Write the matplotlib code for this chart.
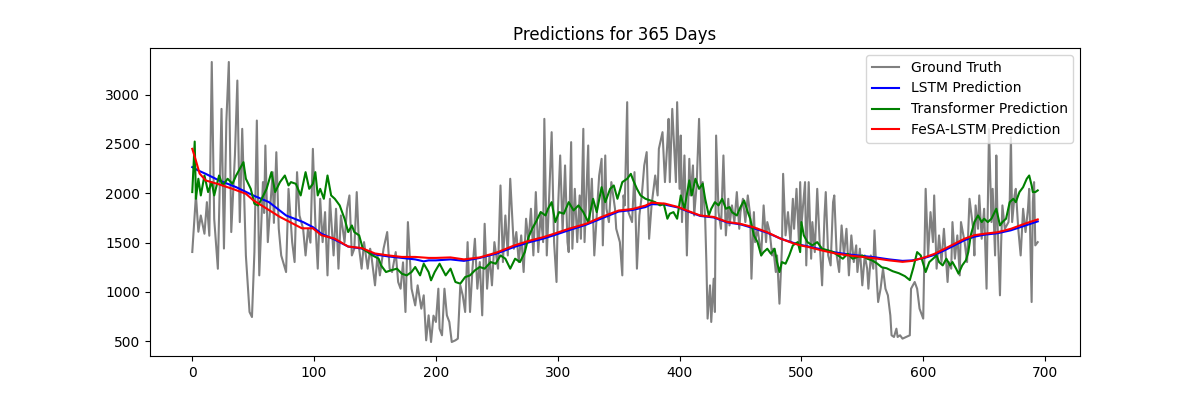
import numpy as np
import matplotlib
matplotlib.use("Agg")
from matplotlib import pyplot as plt

# ground truth, read as (day, value) turning points
gt_days = [0, 3, 5, 7, 10, 12, 14, 16, 18, 21, 24, 26, 28, 30, 32, 35, 37, 39, 41, 43,
           44, 47, 49, 51, 53, 55, 58, 59, 60, 62, 66, 67, 69, 71, 73, 77, 79, 82, 84, 86,
           88, 91, 93, 95, 97, 99, 101, 103, 105, 107, 109, 111, 113, 116, 118, 120, 122, 125, 127, 129,
           131, 133, 135, 137, 139, 141, 144, 146, 147, 150, 152, 154, 157, 160, 162, 164, 167, 169, 171, 173,
           175, 177, 179, 180, 183, 185, 188, 190, 192, 194, 196, 198, 200, 202, 203, 205, 207, 209, 211, 213,
           216, 218, 220, 222, 224, 226, 228, 230, 232, 234, 236, 238, 240, 242, 244, 246, 248, 251, 253, 255,
           257, 259, 261, 264, 266, 268, 270, 272, 274, 276, 278, 280, 282, 284, 286, 288, 289, 291, 293, 295,
           297, 299, 300, 302, 304, 306, 308, 309, 311, 312, 314, 316, 318, 319, 321, 322, 325, 326, 328, 330,
           332, 334, 336, 337, 339, 340, 342, 344, 347, 348, 351, 353, 354, 355, 357, 358, 361, 363, 365, 367,
           369, 371, 373, 375, 377, 380, 382, 383, 386, 388, 390, 391, 392, 394, 397, 398, 400, 401, 402, 404,
           406, 408, 409, 411, 412, 414, 416, 418, 419, 421, 422, 423, 425, 426, 428, 429, 430, 432, 434, 436,
           438, 440, 441, 443, 445, 447, 449, 450, 452, 454, 456, 458, 459, 461, 462, 464, 467, 469, 471, 472,
           474, 476, 477, 479, 480, 482, 484, 485, 487, 489, 491, 493, 494, 496, 498, 499, 500, 503, 504, 506,
           508, 509, 511, 513, 515, 517, 519, 520, 522, 524, 526, 527, 529, 531, 533, 535, 537, 539, 541, 543,
           545, 546, 548, 550, 552, 554, 555, 557, 559, 560, 562, 563, 565, 567, 569, 571, 573, 574, 576, 578,
           579, 581, 583, 586, 589, 590, 593, 595, 597, 598, 600, 601, 602, 604, 606, 608, 609, 611, 613, 615,
           617, 620, 621, 623, 624, 626, 628, 630, 631, 634, 636, 638, 639, 641, 642, 643, 645, 646, 648, 650,
           652, 653, 654, 656, 657, 659, 660, 661, 663, 664, 665, 667, 670, 671, 672, 673, 675, 676, 678, 680,
           682, 684, 686, 687, 689, 690, 691, 692, 694]
gt_vals = [1405, 1980, 1610, 1775, 1590, 1910, 1570, 3330, 1740, 1235, 2855, 1440, 2737, 3330, 1607, 2383, 3142, 1708, 2653, 1810,
           1370, 797, 746, 1404, 2737, 1168, 2113, 1800, 2484, 1505, 2214, 1700, 2416, 1640, 1370, 1202, 2045, 1505, 1303, 2214,
           1775, 1640, 1370, 1640, 1500, 2450, 1708, 1236, 1944, 1505, 1809, 1168, 1944, 1370, 1843, 1236, 1775, 1505, 1843, 1978,
           1370, 1438, 2012, 1438, 1236, 1505, 1236, 1438, 1370, 1067, 1370, 1168, 1438, 1607, 1236, 1202, 1404, 1101, 1033, 1300,
           797, 1708, 1250, 1033, 864, 1067, 831, 966, 510, 763, 493, 760, 696, 1033, 628, 561, 1033, 763, 696, 493,
           510, 527, 1067, 966, 797, 1505, 797, 1236, 1539, 1033, 1303, 763, 1691, 1033, 1370, 1067, 1505, 1236, 2079, 1303,
           1775, 1370, 2147, 1438, 1607, 1303, 1573, 1202, 1742, 1505, 1843, 1370, 2012, 1404, 1809, 1505, 2754, 1370, 1978, 2619,
           1500, 1101, 1775, 2383, 1607, 2282, 1505, 1404, 2518, 1438, 2045, 1505, 1978, 1539, 2653, 1505, 2484, 1708, 2147, 1370,
           1775, 2180, 2349, 1472, 2383, 1843, 1708, 2113, 1843, 1640, 1505, 1168, 1978, 1877, 2923, 1809, 1708, 2214, 1236, 1775,
           1978, 2282, 2417, 1539, 1877, 2180, 1978, 2450, 2619, 2113, 2518, 2754, 2113, 2855, 2113, 2923, 2045, 2585, 1708, 2383,
           1370, 2349, 1978, 2282, 1775, 2079, 2754, 1775, 2113, 1750, 1303, 730, 1067, 696, 1134, 797, 2585, 1809, 1640, 2383,
           1573, 1944, 1674, 1877, 1708, 2012, 1640, 1809, 1944, 1708, 1978, 1775, 1134, 1809, 1505, 1640, 1370, 1877, 1505, 1708,
           1607, 1370, 1438, 1202, 1370, 881, 1438, 2197, 1573, 1809, 1505, 1944, 1640, 2045, 1505, 2113, 1674, 2113, 1269, 2113,
           1337, 1708, 1404, 2045, 1505, 1067, 1775, 2012, 1370, 1269, 1910, 1978, 1370, 1202, 1674, 1370, 1640, 1168, 1573, 1303,
           1472, 1202, 1438, 1067, 1370, 1236, 1033, 1370, 1236, 1624, 1101, 898, 1033, 1236, 1033, 966, 763, 561, 544, 628,
           544, 561, 527, 544, 561, 1033, 1101, 1033, 831, 797, 730, 1404, 2045, 1370, 1809, 1505, 1978, 1236, 1573, 1303,
           1640, 1101, 1303, 1236, 1708, 1337, 1573, 1168, 1708, 1505, 1303, 1944, 1843, 1640, 1370, 1877, 1640, 1978, 1539, 1843,
           1033, 1809, 2650, 1708, 2045, 1370, 2383, 1708, 966, 1505, 1877, 1640, 1708, 1910, 2568, 1708, 1978, 2045, 1640, 1370,
           1843, 1607, 1843, 2045, 898, 1910, 2113, 1472, 1505]

# LSTM prediction
lstm_days = [0, 5, 11, 22, 36, 50, 63, 77, 91, 99, 106, 117, 128, 139, 150, 161, 172, 183, 190, 194,
             200, 212, 223, 236, 250, 264, 277, 288, 297, 309, 323, 336, 350, 361, 372, 377, 388, 399, 406, 417,
             428, 439, 450, 461, 472, 483, 494, 500, 506, 517, 528, 539, 550, 561, 572, 583, 591, 601, 609, 618,
             626, 634, 642, 650, 661, 672, 683, 694]
lstm_vals = [2265, 2230, 2197, 2130, 2062, 1978, 1910, 1775, 1708, 1657, 1590, 1530, 1460, 1440, 1380, 1360, 1345, 1330, 1310, 1320,
             1320, 1330, 1315, 1345, 1390, 1455, 1505, 1540, 1575, 1625, 1680, 1745, 1815, 1830, 1860, 1890, 1885, 1855, 1820, 1770,
             1755, 1705, 1685, 1645, 1600, 1540, 1495, 1475, 1460, 1430, 1400, 1380, 1365, 1350, 1330, 1315, 1320, 1345, 1375, 1425,
             1475, 1525, 1560, 1580, 1595, 1625, 1670, 1715]

# Transformer prediction
tr_days = [0, 2, 3, 5, 7, 10, 13, 16, 18, 22, 25, 29, 33, 36, 39, 42, 44, 48, 51, 54,
           57, 61, 65, 68, 72, 76, 79, 81, 85, 89, 93, 96, 99, 101, 103, 105, 108, 111, 114, 117,
           121, 125, 128, 131, 133, 137, 140, 144, 148, 153, 155, 159, 163, 168, 172, 176, 180, 183, 187, 190,
           194, 196, 199, 203, 208, 212, 216, 220, 224, 228, 232, 236, 240, 245, 249, 253, 257, 261, 265, 269,
           273, 276, 279, 282, 286, 290, 292, 295, 298, 301, 305, 309, 313, 317, 321, 325, 329, 332, 336, 339,
           343, 346, 349, 353, 357, 360, 362, 365, 368, 372, 376, 380, 384, 387, 390, 392, 395, 398, 401, 404,
           408, 410, 413, 416, 419, 421, 424, 426, 429, 432, 435, 438, 441, 443, 447, 450, 453, 456, 458, 461,
           464, 467, 469, 472, 475, 478, 480, 482, 484, 487, 490, 493, 497, 499, 500, 502, 505, 509, 513, 517,
           522, 526, 530, 534, 538, 542, 546, 550, 554, 558, 562, 566, 570, 575, 580, 585, 589, 592, 595, 598,
           600, 602, 605, 608, 611, 613, 616, 619, 622, 624, 627, 629, 632, 635, 637, 639, 642, 645, 648, 650,
           653, 656, 660, 663, 665, 668, 671, 674, 676, 679, 682, 685, 687, 689, 690, 692, 694]
tr_vals = [2012, 2524, 1944, 2147, 1978, 2180, 2012, 2113, 1978, 2180, 2079, 2147, 2096, 2180, 2248, 2315, 2147, 2045, 1894, 1877,
           1944, 2045, 2214, 2012, 2113, 2180, 2079, 2113, 2096, 1978, 2214, 2045, 2096, 2214, 1978, 2045, 1944, 2180, 1978, 1944,
           1877, 1742, 1607, 1674, 1607, 1573, 1438, 1404, 1370, 1337, 1269, 1202, 1219, 1236, 1185, 1168, 1202, 1253, 1168, 1286,
           1202, 1118, 1202, 1286, 1168, 1236, 1101, 1084, 1151, 1168, 1219, 1253, 1236, 1303, 1286, 1370, 1337, 1236, 1337, 1303,
           1404, 1556, 1640, 1708, 1809, 1775, 1843, 1910, 1708, 1809, 1793, 1910, 1826, 1877, 1809, 1708, 1944, 1809, 2062, 1910,
           2045, 2079, 1944, 2113, 2147, 2197, 2130, 2045, 1978, 1944, 1927, 1910, 1877, 1894, 1742, 1793, 1809, 1742, 1978, 1843,
           2130, 1978, 2147, 2045, 2096, 1944, 1775, 1843, 1910, 1877, 1944, 1843, 1860, 1809, 1775, 1860, 1927, 1809, 1742, 1573,
           1505, 1370, 1404, 1438, 1387, 1438, 1303, 1202, 1303, 1286, 1370, 1472, 1505, 1404, 1708, 1573, 1505, 1472, 1505, 1438,
           1421, 1404, 1370, 1337, 1387, 1337, 1354, 1370, 1337, 1320, 1290, 1250, 1240, 1210, 1190, 1160, 1120, 1250, 1404, 1370,
           1286, 1202, 1303, 1337, 1370, 1303, 1269, 1337, 1269, 1303, 1236, 1185, 1269, 1320, 1404, 1573, 1708, 1775, 1708, 1742,
           1708, 1742, 1843, 1674, 1708, 1742, 1910, 1944, 1910, 2012, 2062, 2147, 2180, 2079, 2012, 2012, 2029]

# FeSA-LSTM prediction
fesa_days = [0, 3, 6, 11, 22, 33, 44, 50, 61, 72, 83, 90, 99, 106, 117, 128, 139, 150, 161, 172,
             183, 194, 200, 212, 223, 236, 250, 264, 277, 288, 297, 309, 323, 336, 350, 361, 372, 377, 388, 399,
             406, 417, 428, 439, 450, 461, 472, 483, 494, 500, 506, 517, 528, 539, 550, 561, 572, 583, 591, 601,
             609, 618, 626, 634, 642, 650, 661, 672, 683, 694]
fesa_vals = [2450, 2330, 2200, 2130, 2090, 2045, 1995, 1930, 1845, 1760, 1690, 1645, 1645, 1575, 1540, 1460, 1445, 1390, 1370, 1355,
             1355, 1345, 1345, 1350, 1330, 1350, 1400, 1470, 1520, 1555, 1590, 1640, 1690, 1760, 1825, 1840, 1875, 1905, 1895, 1860,
             1825, 1775, 1760, 1710, 1690, 1655, 1605, 1540, 1490, 1470, 1455, 1420, 1390, 1370, 1355, 1340, 1320, 1305, 1315, 1350,
             1385, 1440, 1490, 1540, 1575, 1590, 1605, 1640, 1690, 1735]

fig, ax = plt.subplots(figsize=(12, 4), dpi=100)
ax.plot(gt_days, gt_vals, color='gray', label='Ground Truth')
ax.plot(lstm_days, lstm_vals, color='blue', label='LSTM Prediction')
ax.plot(tr_days, tr_vals, color='green', label='Transformer Prediction')
ax.plot(fesa_days, fesa_vals, color='red', label='FeSA-LSTM Prediction')
ax.set_title('Predictions for 365 Days')
ax.legend(loc='upper right')

fig.savefig('out.png')
